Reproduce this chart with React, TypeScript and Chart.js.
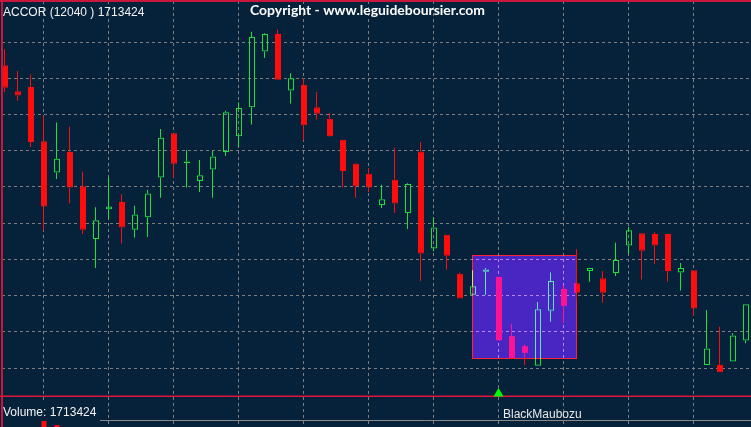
import React, { useEffect, useRef } from "react";
import { Chart, registerables } from "chart.js";

Chart.register(...registerables);

// ---- data ----
const opens = [34.18, 33.82, 33.88, 33.13, 32.70, 32.98, 32.51, 31.78, 32.19, 32.29, 31.91, 32.08, 32.63, 33.24, 32.83, 32.58, 32.74, 32.98, 33.20, 33.60, 34.37, 34.61, 33.83, 33.91, 33.60, 33.44, 33.15, 32.82, 32.68, 32.25, 32.60, 32.14, 32.99, 31.65, 31.84, 31.30, 31.01, 31.33, 31.26, 30.44, 30.30, 30.03, 30.79, 31.09, 31.17, 31.34, 31.24, 31.31, 31.69, 31.86, 31.85, 31.85, 31.32, 31.35, 30.04, 30.04, 30.09, 30.38];
const highs = [34.40, 34.10, 34.05, 33.49, 33.39, 33.33, 32.71, 32.22, 32.63, 32.40, 32.24, 32.46, 33.30, 33.24, 33.01, 32.87, 33.00, 33.55, 33.67, 34.64, 34.62, 34.67, 34.07, 34.00, 33.81, 33.52, 33.15, 32.83, 32.76, 32.53, 33.04, 32.55, 33.12, 32.08, 31.84, 31.32, 31.35, 31.38, 31.26, 30.61, 30.32, 30.91, 31.32, 31.14, 31.64, 31.38, 31.34, 31.73, 31.95, 31.86, 31.88, 31.85, 31.45, 31.35, 30.80, 30.57, 30.48, 30.88];
const lows = [33.81, 33.69, 33.05, 31.90, 32.61, 32.27, 31.85, 31.38, 32.05, 31.72, 31.80, 31.81, 32.35, 32.63, 32.49, 32.43, 32.35, 32.93, 33.05, 33.36, 34.28, 33.98, 33.65, 33.14, 33.43, 33.19, 32.49, 32.35, 32.43, 32.21, 32.14, 31.92, 31.20, 31.61, 31.36, 30.96, 31.01, 31.01, 30.38, 30.12, 30.04, 30.03, 30.64, 30.62, 30.93, 31.19, 30.90, 31.27, 31.57, 31.22, 31.44, 31.19, 31.07, 30.72, 30.04, 29.94, 30.09, 30.34];
const closes = [33.87, 33.76, 33.12, 32.23, 32.89, 32.49, 31.91, 32.04, 32.23, 31.94, 32.12, 32.41, 33.18, 32.82, 32.85, 32.66, 32.92, 33.53, 33.59, 34.57, 34.61, 33.98, 34.00, 33.35, 33.51, 33.20, 32.72, 32.51, 32.49, 32.33, 32.27, 32.54, 31.58, 31.94, 31.55, 30.96, 31.13, 31.36, 30.38, 30.13, 30.21, 30.81, 31.20, 30.86, 31.04, 31.38, 31.04, 31.49, 31.90, 31.62, 31.69, 31.34, 31.38, 30.82, 30.27, 29.94, 30.45, 30.88];
const volumes: (number | null)[] = opens.map(() => null);
volumes[3] = 2100000;
volumes[4] = 1950000;
volumes[57] = 1713424;

const priceGrid = [30, 30.5, 31, 31.5, 32, 32.5, 33, 33.5, 34, 34.5];
const timeGrid = [3, 8, 13, 18, 23, 28, 33, 38, 43, 48, 53];

const titleText = "ACCOR (12040 ) 1713424";
const copyrightText = "Copyright - www.leguideboursier.com";
const volumeText = "Volume: 1713424";
const patternName = "BlackMaubozu";
const patternIndex = 38;
const boxStart = 36;
const boxEnd = 44;
const boxHigh = 31.55;
const boxLow = 30.13;

// ---- styles ----
const BG = "#06223b";
const RED = "#ff0d0d";
const GREEN = "#1ee03c";
const GRID = "#7d7d7d";
const FRAME = "#c8163c";

const X_MIN = -3 / 13;
const X_MAX = X_MIN + 749 / 13;
const Y_MIN = 29.6135;
const Y_MAX = 35.0661;

const isUp = (i: number) => closes[i] > opens[i];
const colorOf = (i: number) => (isUp(i) ? GREEN : RED);

export default function App() {
  const mainRef = useRef<HTMLCanvasElement>(null);
  const volRef = useRef<HTMLCanvasElement>(null);

  useEffect(() => {
    const bodies = opens.map((o, i) => ({ x: i, y: [o, closes[i]] }));
    const upper = opens.map((o, i) => ({ x: i, y: [Math.max(o, closes[i]), highs[i]] }));
    const lower = opens.map((o, i) => ({ x: i, y: [lows[i], Math.min(o, closes[i])] }));

    const decor = {
      id: "decor",
      beforeDraw(chart: any) {
        const c = chart.ctx;
        c.save();
        c.fillStyle = BG;
        c.fillRect(0, 0, chart.width, chart.height);
        c.restore();
      },
      afterDatasetsDraw(chart: any) {
        const c = chart.ctx;
        const xs = chart.scales.xw;
        const ys = chart.scales.y;
        const x1 = Math.floor(xs.getPixelForValue(boxStart)) + 0.5;
        const x2 = Math.floor(xs.getPixelForValue(boxEnd)) + 0.5;
        const y1 = Math.floor(ys.getPixelForValue(boxHigh)) + 0.5;
        const y2 = Math.floor(ys.getPixelForValue(boxLow)) + 0.5;
        c.save();
        c.globalCompositeOperation = "lighter";
        c.fillStyle = "rgb(66,4,134)";
        c.fillRect(x1 + 0.5, y1 + 0.5, x2 - x1 - 1, y2 - y1 - 1);
        c.strokeStyle = "rgb(255,0,0)";
        c.lineWidth = 1;
        c.strokeRect(x1, y1, x2 - x1, y2 - y1);
        c.restore();
      },
      afterDraw(chart: any) {
        const c = chart.ctx;
        const xs = chart.scales.xw;
        const W = chart.width;
        const H = chart.height;
        c.save();
        // volume pane dashed verticals
        c.strokeStyle = GRID;
        c.lineWidth = 1;
        c.setLineDash([3, 3]);
        for (const v of timeGrid) {
          const px = Math.round(xs.getPixelForValue(v) - 0.5) + 0.5;
          c.beginPath();
          c.moveTo(px, 397);
          c.lineTo(px, H);
          c.stroke();
        }
        c.setLineDash([]);
        // volume label box
        c.fillStyle = BG;
        c.fillRect(3, 401, 97, 19);
        c.strokeStyle = "#8a8a8a";
        c.beginPath();
        c.moveTo(100, 420.5);
        c.lineTo(W, 420.5);
        c.stroke();
        // frame
        c.fillStyle = FRAME;
        c.fillRect(0, 0, W, 2);
        c.fillRect(1, 0, 2, H);
        c.fillStyle = "#e0143c";
        c.fillRect(0, 395.5, W, 1.5);
        // texts
        c.fillStyle = "#f2f2f2";
        c.textBaseline = "alphabetic";
        c.textAlign = "left";
        c.font = "12px 'Liberation Sans', Arial, sans-serif";
        c.fillText(titleText, 3, 16);
        c.fillText(volumeText, 3, 416);
        c.font = "bold 14px Lato, sans-serif";
        const w = c.measureText(copyrightText).width;
        const size = (14 * 235) / w;
        c.font = `bold ${size.toFixed(2)}px Lato, sans-serif`;
        c.fillStyle = "#ffffff";
        c.fillText(copyrightText, 250, 15);
        // pattern marker
        const px = xs.getPixelForValue(patternIndex);
        c.fillStyle = "#00ff00";
        c.beginPath();
        c.moveTo(px, 388);
        c.lineTo(px + 5, 396.5);
        c.lineTo(px - 5, 396.5);
        c.closePath();
        c.fill();
        c.fillStyle = "#e8e8e8";
        c.font = "12px 'Liberation Sans', Arial, sans-serif";
        c.fillText(patternName, px + 4.5, 418);
        c.restore();
      },
    };

    const barCommon = {
      grouped: false,
      inflateAmount: 0,
      borderSkipped: false,
    };

    const main = new Chart(mainRef.current as HTMLCanvasElement, {
      type: "bar",
      data: {
        datasets: [
          {
            ...barCommon,
            data: upper as any,
            xAxisID: "xw",
            barThickness: 1,
            backgroundColor: (ctx: any) => colorOf(ctx.dataIndex),
            borderWidth: 0,
          },
          {
            ...barCommon,
            data: lower as any,
            xAxisID: "xw",
            barThickness: 1,
            backgroundColor: (ctx: any) => colorOf(ctx.dataIndex),
            borderWidth: 0,
          },
          {
            ...barCommon,
            data: bodies as any,
            xAxisID: "x",
            barThickness: 6,
            backgroundColor: (ctx: any) => (isUp(ctx.dataIndex) ? "rgba(0,0,0,0)" : RED),
            borderColor: (ctx: any) => colorOf(ctx.dataIndex),
            borderWidth: 1,
          },
        ] as any,
      },
      options: {
        animation: false,
        responsive: false,
        devicePixelRatio: 1,
        events: [],
        layout: { padding: { left: 2, right: 0, top: 1, bottom: 31 } },
        plugins: { legend: { display: false }, tooltip: { enabled: false } },
        scales: {
          x: {
            type: "linear",
            display: false,
            min: X_MIN,
            max: X_MAX,
            offset: false,
          },
          xw: {
            type: "linear",
            position: "bottom",
            min: X_MIN + 0.5 / 13,
            max: X_MAX + 0.5 / 13,
            offset: false,
            grid: { color: GRID, offset: false, drawTicks: false, lineWidth: 1 },
            border: { display: false, dash: [3, 3] },
            ticks: { display: false },
            afterBuildTicks: (s: any) => {
              s.ticks = timeGrid.map((v) => ({ value: v }));
            },
          },
          y: {
            type: "linear",
            min: Y_MIN,
            max: Y_MAX,
            grid: { color: GRID, drawTicks: false, lineWidth: 1 },
            border: { display: false, dash: [3, 3] },
            ticks: { display: false },
            afterBuildTicks: (s: any) => {
              s.ticks = priceGrid.map((v) => ({ value: v }));
            },
          },
        } as any,
      },
      plugins: [decor],
    });

    const vol = new Chart(volRef.current as HTMLCanvasElement, {
      type: "bar",
      data: {
        datasets: [
          {
            data: volumes.map((v, i) => ({ x: i, y: v })) as any,
            backgroundColor: RED,
            barThickness: 5,
            grouped: false,
            inflateAmount: 0,
          } as any,
        ],
      },
      options: {
        animation: false,
        responsive: false,
        devicePixelRatio: 1,
        events: [],
        layout: { padding: { left: 2, right: 0, top: 0, bottom: 0 } },
        plugins: { legend: { display: false }, tooltip: { enabled: false } },
        scales: {
          x: { type: "linear", display: false, min: X_MIN, max: X_MAX, offset: false },
          y: { type: "linear", display: false, min: 0, max: 3000000 },
        } as any,
      },
    });

    return () => {
      main.destroy();
      vol.destroy();
    };
  }, []);

  return (
    <div
      style={{
        position: "fixed",
        left: 0,
        top: 0,
        width: 751,
        height: 427,
        overflow: "hidden",
        background: BG,
      }}
    >
      <canvas
        ref={mainRef}
        width={751}
        height={427}
        style={{ position: "absolute", left: 0, top: 0, width: 751, height: 427 }}
      />
      <div style={{ position: "absolute", left: 0, top: 397, width: 751, height: 30, overflow: "hidden" }}>
        <canvas ref={volRef} width={751} height={80} style={{ display: "block", width: 751, height: 80 }} />
      </div>
    </div>
  );
}
